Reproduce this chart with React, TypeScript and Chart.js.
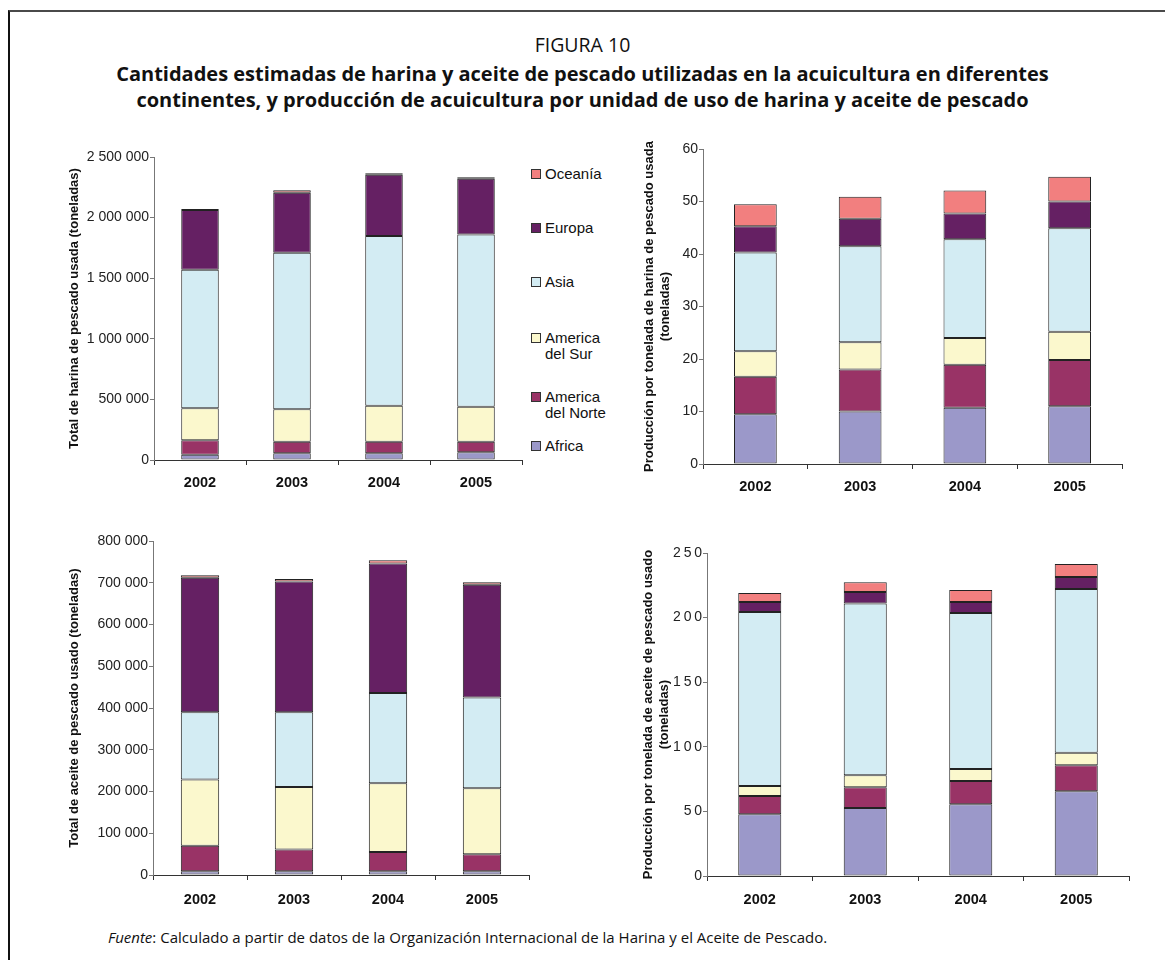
import React, { useEffect, useRef } from 'react';
import { Chart, registerables } from 'chart.js';
Chart.register(...registerables);

// ---- DATA ----
const YEARS = ['2002', '2003', '2004', '2005'];
const SERIES = ['Africa', 'America del Norte', 'America del Sur', 'Asia', 'Europa', 'Oceanía'];
const COLORS = ['#9B98C9', '#993366', '#FBF8CD', '#D3ECF3', '#652063', '#F27F7F'];

// Total de harina de pescado usada (toneladas)
const harinaAfrica = [44000, 55000, 55000, 63000];
const harinaNorte = [118000, 96000, 96000, 88000];
const harinaSur = [266000, 267000, 297000, 289000];
const harinaAsia = [1141000, 1291000, 1401000, 1420000];
const harinaEuropa = [494000, 497000, 505000, 461000];
const harinaOceania = [8000, 19000, 11000, 11000];

// Producción por tonelada de harina de pescado usada
const prodHarinaAfrica = [9.5, 10.0, 10.7, 11.0];
const prodHarinaNorte = [7.1, 8.0, 8.2, 8.8];
const prodHarinaSur = [4.9, 5.2, 5.1, 5.4];
const prodHarinaAsia = [18.8, 18.3, 18.8, 19.7];
const prodHarinaEuropa = [5.0, 5.2, 4.9, 5.1];
const prodHarinaOceania = [4.2, 4.2, 4.4, 4.7];

// Total de aceite de pescado usado (toneladas)
const aceiteAfrica = [9000, 9000, 9000, 9000];
const aceiteNorte = [61000, 52000, 46000, 41000];
const aceiteSur = [159000, 150000, 165000, 158000];
const aceiteAsia = [161000, 179000, 216000, 217000];
const aceiteEuropa = [322000, 313000, 310000, 270000];
const aceiteOceania = [6000, 6000, 8000, 6000];

// Producción por tonelada de aceite de pescado usado
const prodAceiteAfrica = [47.8, 52.7, 55.5, 65.6];
const prodAceiteNorte = [14.2, 16.0, 18.1, 20.1];
const prodAceiteSur = [7.7, 9.3, 9.3, 9.6];
const prodAceiteAsia = [134.6, 133.0, 120.6, 126.8];
const prodAceiteEuropa = [7.7, 8.8, 8.5, 9.3];
const prodAceiteOceania = [7.0, 7.5, 9.3, 10.1];

const TITLE_FIG = 'FIGURA 10';
const TITLE_LINES = [
  'Cantidades estimadas de harina y aceite de pescado utilizadas en la acuicultura en diferentes',
  'continentes, y producción de acuicultura por unidad de uso de harina y aceite de pescado',
];
const SOURCE_LABEL = 'Fuente';
const SOURCE_TEXT = ': Calculado a partir de datos de la Organización Internacional de la Harina y el Aceite de Pescado.';

// ---- helpers ----
const spacedThousands = (v: number) =>
  String(Math.round(v)).replace(/\B(?=(\d{3})+(?!\d))/g, ' ');
const plain = (v: number) => String(v);
const spacedDigits = (v: number) => String(v).split('').join('\u2009');

type Rect = { x: number; y: number; w: number; h: number };
type Plot = { l: number; t: number; r: number; b: number };
type Spec = {
  canvas: Rect;
  plot: Plot;
  data: number[][];
  max: number;
  step: number;
  fmt: (v: number) => string;
  title: string | string[];
  titlePad: number;
  xPad: number;
};

const FONT = "'Liberation Sans', Arial, sans-serif";
const HEAD_FONT = "'Open Sans', 'Noto Sans', sans-serif";

function StackChart({ spec }: { spec: Spec }) {
  const ref = useRef<HTMLCanvasElement>(null);
  useEffect(() => {
    const { canvas, plot } = spec;
    const chart = new Chart(ref.current!, {
      type: 'bar',
      data: {
        labels: YEARS,
        datasets: SERIES.map((name, i) => ({
          label: name,
          data: spec.data[i],
          backgroundColor: COLORS[i],
          borderColor: '#222',
          borderWidth: 1,
          borderSkipped: false,
          barPercentage: 0.51,
          categoryPercentage: 0.8,
        })),
      },
      options: {
        animation: false,
        responsive: false,
        maintainAspectRatio: false,
        layout: {
          padding: {
            top: plot.t - canvas.y,
            right: canvas.x + canvas.w - plot.r,
            left: 0,
            bottom: 0,
          },
        },
        plugins: { legend: { display: false }, tooltip: { enabled: false } },
        scales: {
          x: {
            stacked: true,
            grid: { offset: true, drawOnChartArea: false, drawTicks: true, tickLength: 5, color: '#333' },
            border: { color: '#333', width: 1 },
            ticks: { font: { family: FONT, size: 14.5, weight: 'bold' }, color: '#111', padding: spec.xPad },
            afterFit: (s: any) => {
              s.height = canvas.y + canvas.h - plot.b;
            },
          },
          y: {
            stacked: true,
            min: 0,
            max: spec.max,
            ticks: {
              stepSize: spec.step,
              font: { family: FONT, size: 14 },
              color: '#222',
              padding: 1,
              callback: (v: any) => spec.fmt(Number(v)),
            },
            grid: { drawOnChartArea: false, drawTicks: true, tickLength: 4, color: '#777' },
            border: { color: '#777', width: 1 },
            title: {
              display: true,
              text: spec.title,
              font: { family: FONT, size: 13, weight: 'bold' },
              color: '#111',
              padding: { top: spec.titlePad, bottom: 0 },
            },
            afterFit: (s: any) => {
              s.width = plot.l - canvas.x;
            },
          },
        },
      } as any,
    });
    return () => chart.destroy();
  }, [spec]);
  const { canvas } = spec;
  return (
    <canvas
      ref={ref}
      width={canvas.w}
      height={canvas.h}
      style={{ position: 'absolute', left: canvas.x, top: canvas.y, width: canvas.w, height: canvas.h }}
    />
  );
}

const SPECS: Spec[] = [
  {
    canvas: { x: 60, y: 140, w: 470, h: 365 },
    plot: { l: 154, t: 157, r: 522, b: 460 },
    data: [harinaAfrica, harinaNorte, harinaSur, harinaAsia, harinaEuropa, harinaOceania],
    max: 2500000,
    step: 500000,
    fmt: spacedThousands,
    title: 'Total de harina de pescado usada (toneladas)',
    titlePad: 7,
    xPad: 9,
  },
  {
    canvas: { x: 630, y: 135, w: 500, h: 370 },
    plot: { l: 703, t: 149, r: 1122, b: 464 },
    data: [prodHarinaAfrica, prodHarinaNorte, prodHarinaSur, prodHarinaAsia, prodHarinaEuropa, prodHarinaOceania],
    max: 60,
    step: 10,
    fmt: plain,
    title: ['Producción por tonelada de harina de pescado usada', '(toneladas)'],
    titlePad: 12,
    xPad: 9,
  },
  {
    canvas: { x: 60, y: 525, w: 475, h: 390 },
    plot: { l: 153, t: 541, r: 529, b: 875 },
    data: [aceiteAfrica, aceiteNorte, aceiteSur, aceiteAsia, aceiteEuropa, aceiteOceania],
    max: 800000,
    step: 100000,
    fmt: spacedThousands,
    title: 'Total de aceite de pescado usado (toneladas)',
    titlePad: 7,
    xPad: 11,
  },
  {
    canvas: { x: 630, y: 535, w: 505, h: 380 },
    plot: { l: 707, t: 553, r: 1129, b: 876 },
    data: [prodAceiteAfrica, prodAceiteNorte, prodAceiteSur, prodAceiteAsia, prodAceiteEuropa, prodAceiteOceania],
    max: 250,
    step: 50,
    fmt: spacedDigits,
    title: ['Producción por tonelada de aceite de pescado usado', '(toneladas)'],
    titlePad: 11,
    xPad: 10,
  },
];

// legend item vertical centers (first line), top to bottom: Oceanía ... Africa
const LEGEND_Y = [174, 228, 282, 338, 397, 446];

export default function App() {
  const legendOrder = SERIES.map((_, i) => i).reverse();
  return (
    <div style={{ position: 'absolute', left: 0, top: 0, width: 1165, height: 960, background: '#fff', overflow: 'hidden' }}>
      <div
        style={{
          position: 'absolute',
          left: 8,
          top: 10,
          width: 1170,
          height: 960,
          borderTop: '2px solid #4a4a4a',
          borderLeft: '2px solid #111',
        }}
      />
      <div
        style={{
          position: 'absolute',
          left: 0,
          width: 1165,
          top: 31,
          textAlign: 'center',
          fontFamily: HEAD_FONT,
          fontSize: 19.5,
          lineHeight: '28px',
          color: '#111',
        }}
      >
        {TITLE_FIG}
      </div>
      {TITLE_LINES.map((t, i) => (
        <div
          key={i}
          style={{
            position: 'absolute',
            left: 0,
            width: 1165,
            top: 60 + i * 26,
            textAlign: 'center',
            fontFamily: HEAD_FONT,
            fontWeight: 'bold',
            fontSize: 20,
            lineHeight: '28px',
            color: '#111',
            whiteSpace: 'nowrap',
          }}
        >
          {t}
        </div>
      ))}
      {SPECS.map((s, i) => (
        <StackChart key={i} spec={s} />
      ))}
      {legendOrder.map((si, k) => (
        <div key={si} style={{ position: 'absolute', left: 531, top: LEGEND_Y[k] - 8, width: 100 }}>
          <div
            style={{
              position: 'absolute',
              left: 0,
              top: 3,
              width: 8,
              height: 8,
              background: COLORS[si],
              border: '1px solid #333',
            }}
          />
          <div
            style={{
              position: 'absolute',
              left: 14,
              top: 0,
              width: 68,
              fontFamily: FONT,
              fontSize: 15,
              lineHeight: '16px',
              color: '#111',
            }}
          >
            {SERIES[si]}
          </div>
        </div>
      ))}
      <div
        style={{
          position: 'absolute',
          left: 108,
          top: 926,
          fontFamily: HEAD_FONT,
          fontSize: 15,
          lineHeight: '22px',
          color: '#111',
          whiteSpace: 'nowrap',
        }}
      >
        <i>{SOURCE_LABEL}</i>
        {SOURCE_TEXT}
      </div>
    </div>
  );
}
